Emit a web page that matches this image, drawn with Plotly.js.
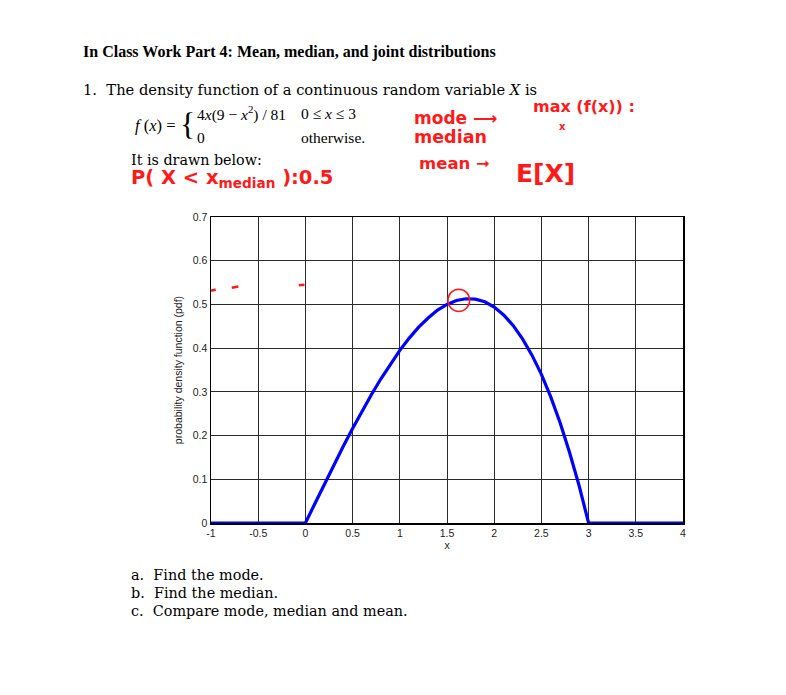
<!DOCTYPE html>
<html>
<head>
<meta charset="utf-8">
<script src="https://cdn.plot.ly/plotly-3.0.1.min.js"></script>
<style>html,body{margin:0;padding:0;background:#fff;}#chart{width:786px;height:695px;}</style>
</head>
<body>
<div id="chart"></div>
<script>
// Values
const xValues = [-1, 0, 0.1, 0.2, 0.3, 0.4, 0.5, 0.6, 0.7, 0.8, 0.9, 1.0, 1.1, 1.2, 1.3, 1.4, 1.5, 1.6, 1.7, 1.8, 1.9, 2.0, 2.1, 2.2, 2.3, 2.4, 2.5, 2.6, 2.7, 2.8, 2.9, 3.0, 4];
const pdfValues = [0, 0, 0.044, 0.089, 0.132, 0.175, 0.216, 0.256, 0.294, 0.330, 0.364, 0.395, 0.423, 0.448, 0.469, 0.487, 0.500, 0.509, 0.513, 0.512, 0.506, 0.494, 0.476, 0.452, 0.421, 0.384, 0.340, 0.288, 0.228, 0.160, 0.085, 0, 0];
const xTickVals = [-1, -0.5, 0, 0.5, 1, 1.5, 2, 2.5, 3, 3.5, 4];
const xTickText = ['-1', '-0.5', '0', '0.5', '1', '1.5', '2', '2.5', '3', '3.5', '4'];
const yTickVals = [0, 0.1, 0.2, 0.3, 0.4, 0.5, 0.6, 0.7];
const yTickText = ['0', '0.1', '0.2', '0.3', '0.4', '0.5', '0.6', '0.7'];
// handwritten red dashes on the chart (x start, x end, y start, y end)
const dashX0 = [-1.0, -0.78, -0.07];
const dashX1 = [-0.95, -0.71, -0.01];
const dashY0 = [0.531, 0.538, 0.544];
const dashY1 = [0.534, 0.541, 0.545];

const W = 786, H = 695;
const L = 211, R = 683, T = 217, B = 523;
const px = X => (X - L) / (R - L);
const py = Y => (B - Y) / (B - T);

const serif = 'Liberation Serif, Times New Roman, serif';
const wide = 'DejaVu Serif, serif';
const hand = 'DejaVu Sans, sans-serif';
const sans = 'Liberation Sans, Arial, sans-serif';
const red = '#ff1a1a';

function txt(text, X, Y, size, family, color) {
  return {
    text: text, xref: 'paper', yref: 'paper', x: px(X), y: py(Y),
    xanchor: 'left', yanchor: 'middle', showarrow: false, borderpad: 0,
    font: {family: family, size: size, color: color || '#000'}
  };
}

const annotations = [
  txt('<b>In Class Work Part 4: Mean, median, and joint distributions</b>', 82, 52, 16, serif),
  txt('1.  The density function of a continuous random variable <i>X</i> is', 82, 90, 14.7, wide),
  txt('<i>f</i> (<i>x</i>) =', 134, 126, 16.5, serif),
  txt('{', 179, 124, 32, serif),
  txt('4<i>x</i>(9 − <i>x</i><sup>2</sup>) / 81', 196, 113, 15.5, serif),
  txt('0 ≤ <i>x</i> ≤ 3', 300, 113, 15.5, serif),
  txt('0', 196, 137, 15.5, serif),
  txt('otherwise.', 300, 137, 15.5, serif),
  txt('It is drawn below:', 130, 160, 14.3, wide),
  txt('a.  Find the mode.', 130, 575, 14.4, wide),
  txt('b.  Find the median.', 130, 593, 14.4, wide),
  txt('c.  Compare mode, median and mean.', 130, 611, 14.4, wide),
  // handwritten notes
  txt('<b>P( X &lt; x</b><sub><b>median</b></sub><b> ):0.5</b>', 130, 178, 19.5, hand, red),
  txt('<b>mode ⟶</b>', 413, 118, 17, hand, red),
  txt('<b>max (f(x)) :</b>', 532, 107, 16, hand, red),
  txt('<b>x</b>', 558, 127, 10, hand, red),
  txt('<b>median</b>', 413, 137, 17.5, hand, red),
  txt('<b>mean ➞</b>', 418, 163, 16.5, hand, red),
  txt('<b>E[X]</b>', 515, 173, 25, hand, red)
];

const shapes = [];
for (let i = 0; i < dashX0.length; i++) {
  shapes.push({type: 'line', xref: 'x', yref: 'y', x0: dashX0[i], x1: dashX1[i], y0: dashY0[i], y1: dashY1[i],
    line: {color: red, width: 2.5}});
}
shapes.push({type: 'circle', xref: 'x', yref: 'y', x0: 1.51, x1: 1.74, y0: 0.484, y1: 0.535,
  line: {color: red, width: 1.5}});

const trace = {
  x: xValues, y: pdfValues, type: 'scatter', mode: 'lines',
  line: {color: '#0000ff', width: 3.2}, hoverinfo: 'skip'
};

const axisCommon = {
  showline: true, mirror: true, linecolor: '#000', linewidth: 1.5,
  showgrid: true, gridcolor: '#2a2a2a', gridwidth: 1, zeroline: false,
  ticks: '', tickfont: {family: sans, size: 10.5, color: '#222'}
};

const layout = {
  width: W, height: H,
  margin: {l: L, r: W - R, t: T, b: H - B, pad: 0},
  paper_bgcolor: '#fff', plot_bgcolor: '#fff',
  showlegend: false,
  xaxis: Object.assign({}, axisCommon, {
    range: [-1, 4], tickmode: 'array', tickvals: xTickVals, ticktext: xTickText,
    tickangle: 0,
    title: {text: 'x', font: {family: sans, size: 10.5, color: '#222'}, standoff: 3}
  }),
  yaxis: Object.assign({}, axisCommon, {
    range: [0, 0.7], tickmode: 'array', tickvals: yTickVals, ticktext: yTickText,
    title: {text: 'probability density function (pdf)', font: {family: sans, size: 10.5, color: '#222'}, standoff: 8}
  }),
  annotations: annotations,
  shapes: shapes
};

Plotly.newPlot('chart', [trace], layout, {displayModeBar: false, staticPlot: true});
</script>
</body>
</html>
